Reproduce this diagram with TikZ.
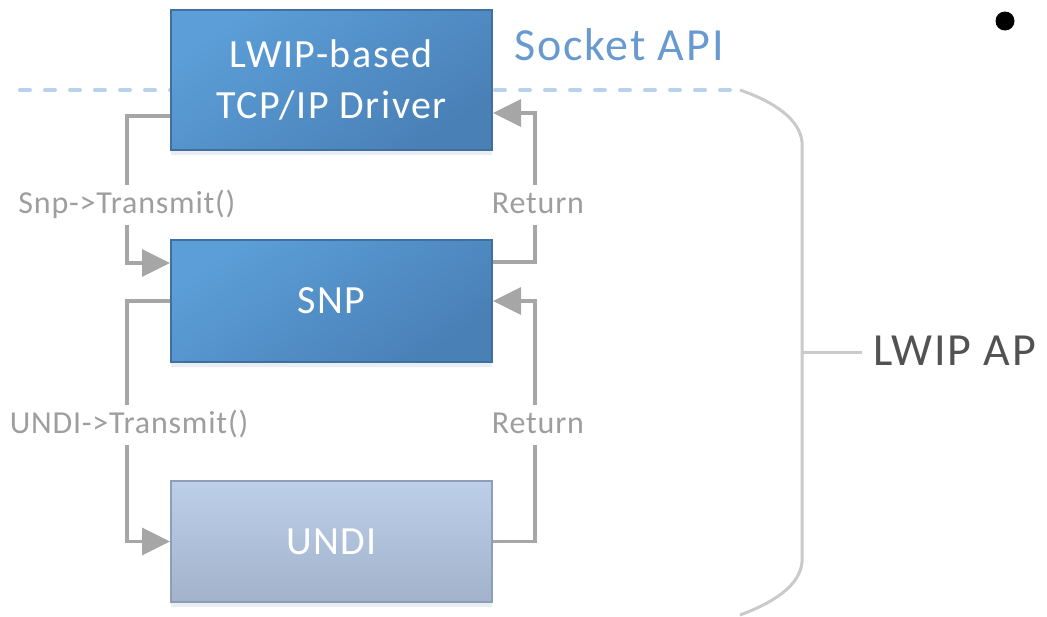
\documentclass[tikz,border=0pt]{standalone}
\usepackage{fontspec}
\setmainfont{Carlito}[LetterSpace=4]
\newfontfamily\labelfont{Carlito}[LetterSpace=2.5]
\usetikzlibrary{arrows.meta,shadows}

\definecolor{boxlight}{RGB}{92,158,216}
\definecolor{boxdark}{RGB}{73,128,182}
\definecolor{boxedge}{RGB}{64,112,160}
\definecolor{undilight}{RGB}{188,207,233}
\definecolor{undidark}{RGB}{162,178,203}
\definecolor{undiedge}{RGB}{140,158,184}
\definecolor{conngray}{RGB}{166,166,166}
\definecolor{labelgray}{RGB}{158,158,158}
\definecolor{apiblue}{RGB}{104,154,208}
\definecolor{dashblue}{RGB}{186,209,238}
\definecolor{bracegray}{RGB}{202,202,202}
\definecolor{aptext}{RGB}{82,82,82}

\tikzset{
  layerbox/.style={rectangle, draw=boxedge, line width=2pt,
    top color=boxlight, bottom color=boxdark, shading angle=35,
    minimum width=321pt, text=white, align=center, inner sep=0pt,
    font=\fontsize{40}{51}\selectfont,
    drop shadow={shadow xshift=0pt, shadow yshift=-5pt, fill=boxedge, opacity=0.12}},
  undibox/.style={layerbox, draw=undiedge, top color=undilight, bottom color=undidark},
  conn/.style={draw=conngray, line width=3.5pt},
  arr/.style={conn, -{Triangle[length=28pt,width=27pt]}},
  lbl/.style={anchor=base, text=labelgray, inner xsep=2pt, inner ysep=4pt,
    text height=24pt, text depth=8pt, font=\labelfont\fontsize{32}{36}\selectfont},
}

\begin{document}
\begin{tikzpicture}[x=1pt,y=-1pt]
\useasboundingbox (0,0) rectangle (1047,616);

% socket API boundary
\draw[dashblue, line width=4pt, line cap=round, dash pattern=on 10pt off 15pt]
  (20,90) -- (738,90);

% layers
\node[layerbox, minimum height=140pt] (tcp) at (331.5,80) {LWIP-based\\TCP/IP Driver};
\node[layerbox, minimum height=122pt] (snp) at (331.5,301) {SNP};
\node[undibox, minimum height=121pt] (undi) at (331.5,541.5) {UNDI};

% call labels
\node[lbl] (l1) at (127,213) {Snp->Transmit()};
\node[lbl] (l2) at (129,433) {UNDI->Transmit()};
\node[lbl] (r1) at (538,213) {Return};
\node[lbl] (r2) at (538,433) {Return};

% downward calls
\draw[conn] ([yshift=-36pt]tcp.west) -| (l1.north);
\draw[arr] (l1.south) |- ([yshift=38pt]snp.west);
\draw[conn] (snp.west) -| (127,0 |- l2.north);
\draw[arr] (127,0 |- l2.south) |- (undi.west);

% returns
\draw[conn] ([yshift=39pt]snp.east) -| (535,0 |- r1.south);
\draw[arr] (535,0 |- r1.north) |- ([yshift=-33pt]tcp.east);
\draw[conn] (undi.east) -| (535,0 |- r2.south);
\draw[arr] (535,0 |- r2.north) |- (snp.east);

% titles
\node[anchor=base west, text=apiblue, inner sep=0pt,
  font=\fontsize{46}{50}\selectfont] (api) at (514,60) {Socket API};

% brace grouping the stack
\coordinate (bt) at (740,90);
\coordinate (bb) at (740,615);
\coordinate (bm) at (802,352);
\draw[bracegray, line width=3pt]
  (bt) .. controls (775,102) and (800,120) .. (802,142) -- (802,562)
  .. controls (800,585) and (775,602) .. (bb);
\node[anchor=base west, text=aptext, inner sep=0pt,
  font=\fontsize{46}{50}\selectfont] (ap) at (873,365) {LWIP AP};
\draw[bracegray, line width=3pt] (bm) -- ([xshift=-11pt]ap.west |- bm);

\node[circle, fill=black, minimum size=19pt, inner sep=0pt] (dot) at (1005,21) {};
\end{tikzpicture}
\end{document}
